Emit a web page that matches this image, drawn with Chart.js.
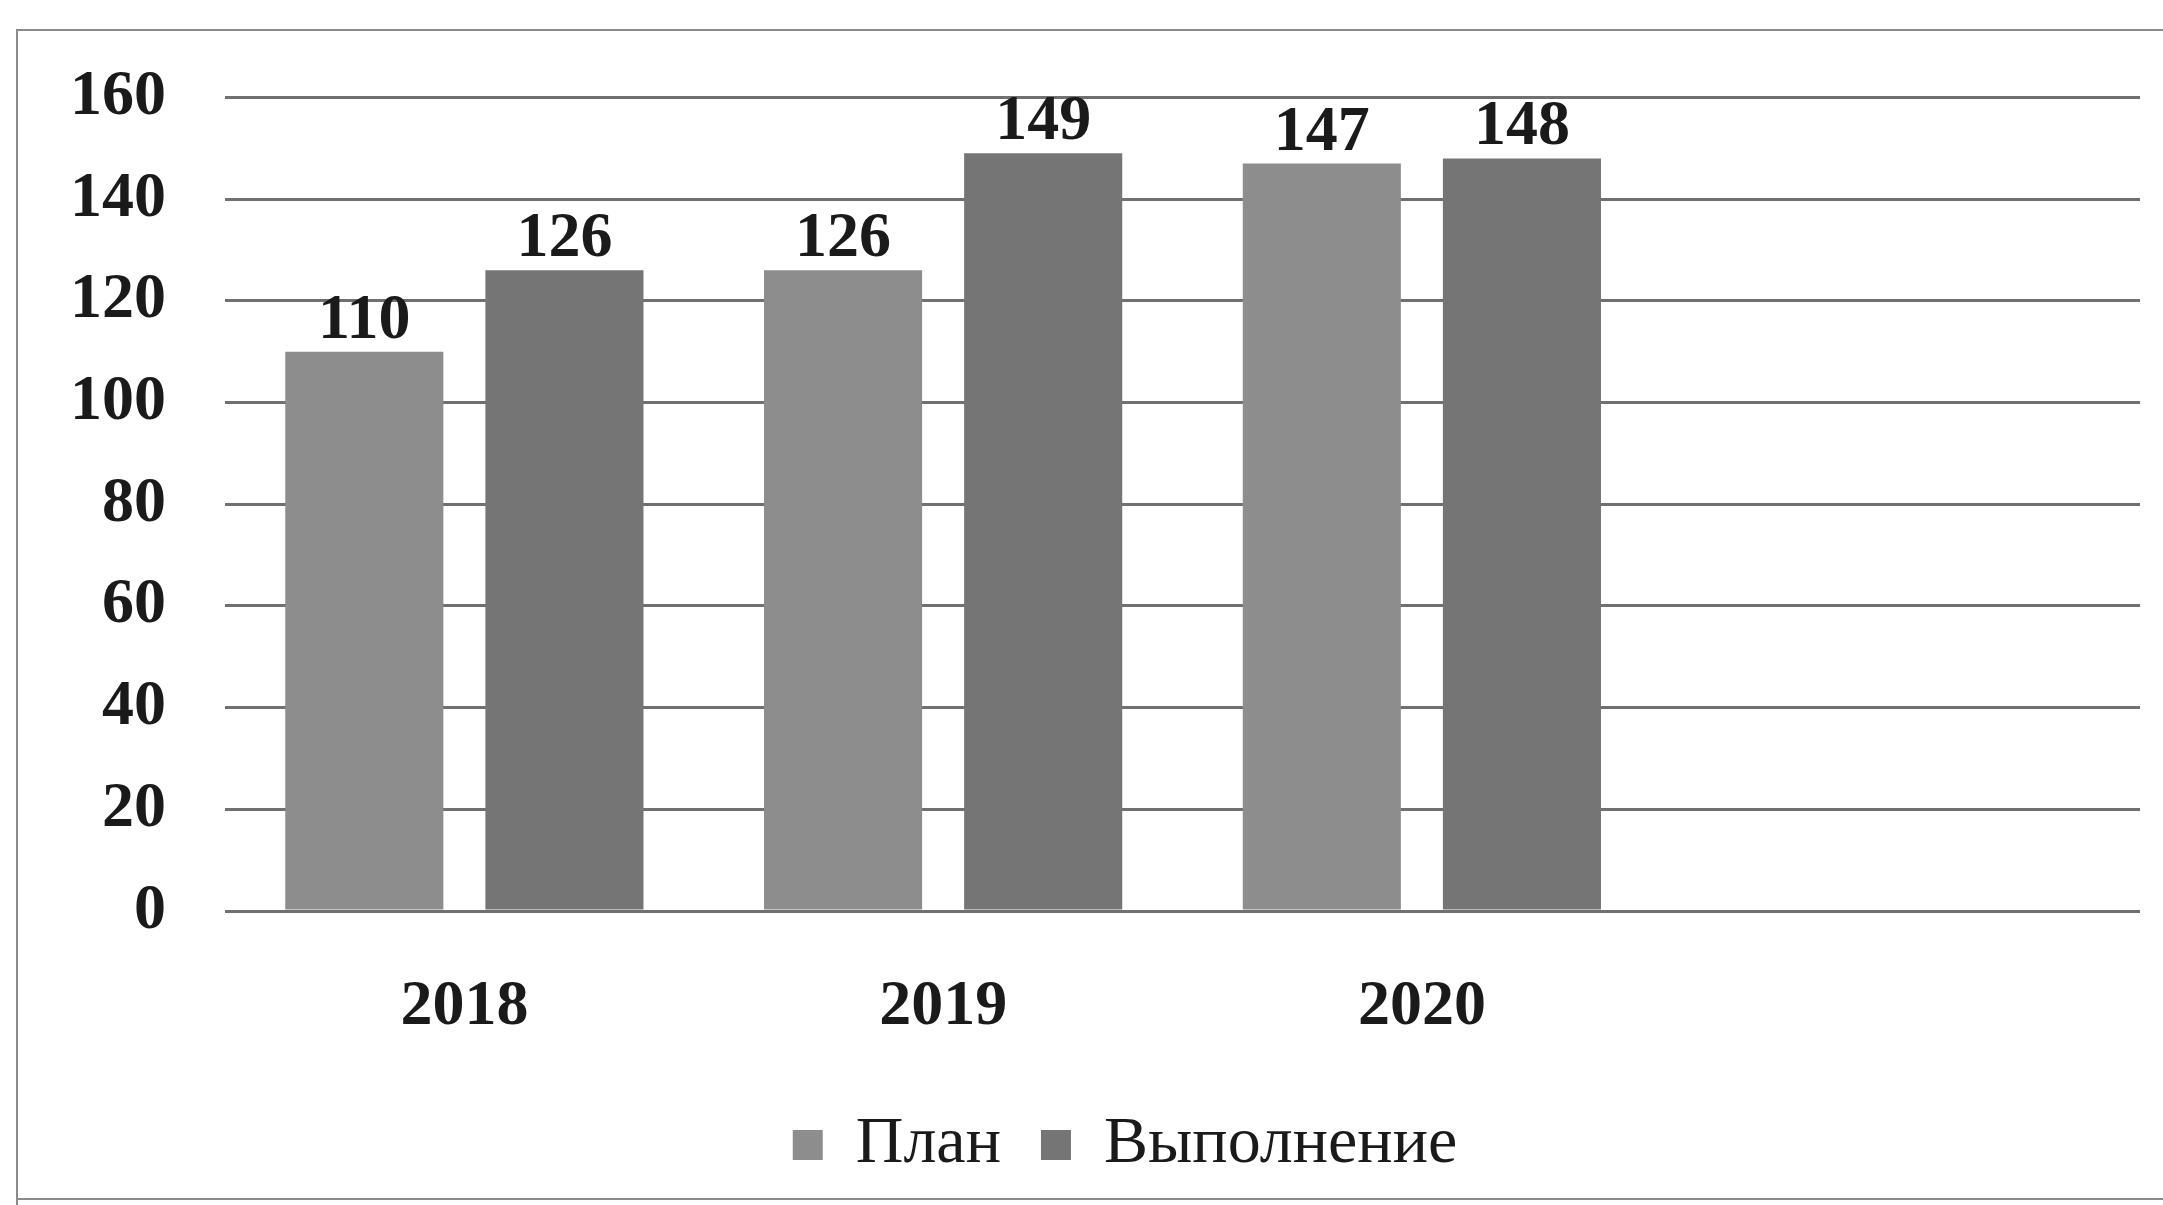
<!DOCTYPE html>
<html>
<head>
<meta charset="utf-8">
<script src="https://cdn.jsdelivr.net/npm/chart.js@4"></script>
<style>
  html, body { margin: 0; padding: 0; background: #fff; }
  #chart { display: block; }
</style>
</head>
<body>
<canvas id="chart" width="2163" height="1205"></canvas>
<script>
// Years on the x axis (the 4th slot is empty in the original)
const years = ['2018', '2019', '2020', ''];
const planValues = [110, 126, 147, null];
const doneValues = [126, 149, 148, null];
const yTicks = [0, 20, 40, 60, 80, 100, 120, 140, 160];

const serif = '"Liberation Serif", "Times New Roman", serif';

// frame around the scanned chart
const framePlugin = {
    id: 'frame',
    beforeDraw(chart) {
        const ctx = chart.ctx;
        ctx.save();
        ctx.strokeStyle = '#8a8a8a';
        ctx.lineWidth = 2;
        ctx.beginPath();
        ctx.moveTo(2163, 30);
        ctx.lineTo(17, 30);
        ctx.lineTo(17, 1205);
        ctx.moveTo(17, 1199);
        ctx.lineTo(2163, 1199);
        ctx.stroke();
        ctx.restore();
    },
    // legend sits a bit right of centre in the original
    afterLayout(chart) {
        chart.legend.left += 25;
        chart.legend.right += 25;
    }
};

// value labels above bars
const valueLabels = {
    id: 'valueLabels',
    afterDatasetsDraw(chart) {
        const ctx = chart.ctx;
        ctx.save();
        ctx.font = 'bold 64px ' + serif;
        ctx.fillStyle = '#1a1a1a';
        ctx.textAlign = 'center';
        ctx.textBaseline = 'alphabetic';
        chart.data.datasets.forEach((ds, i) => {
            chart.getDatasetMeta(i).data.forEach((bar, j) => {
                if (ds.data[j] == null) return;
                ctx.fillText(ds.data[j], bar.x, bar.y - 14);
            });
        });
        ctx.restore();
    }
};

new Chart(document.getElementById('chart').getContext('2d'), {
    type: 'bar',
    data: {
        labels: years,
        datasets: [
            {
                label: 'План',
                data: planValues,
                backgroundColor: '#8d8d8d',
                categoryPercentage: 0.836,
                barPercentage: 0.79
            },
            {
                label: 'Выполнение',
                data: doneValues,
                backgroundColor: '#757575',
                categoryPercentage: 0.836,
                barPercentage: 0.79
            }
        ]
    },
    options: {
        responsive: false,
        animation: false,
        layout: {
            padding: { top: 93, left: 60, right: 23, bottom: 17 }
        },
        scales: {
            x: {
                grid: { display: false, drawTicks: false },
                border: { display: false },
                ticks: {
                    color: '#1a1a1a',
                    font: { family: serif, size: 64, weight: 'bold' },
                    padding: 58
                },
                afterFit(scale) { scale.height = 161; }
            },
            y: {
                min: 0,
                max: 160,
                afterBuildTicks(scale) {
                    scale.ticks = yTicks.map(v => ({ value: v }));
                },
                grid: { color: '#707070', lineWidth: 3, drawTicks: false },
                border: { display: false },
                ticks: {
                    color: '#1a1a1a',
                    font: { family: serif, size: 64, weight: 'bold' },
                    padding: 59
                },
                afterFit(scale) { scale.width = 165; }
            }
        },
        plugins: {
            legend: {
                position: 'bottom',
                labels: {
                    color: '#1a1a1a',
                    font: { family: serif, size: 66 },
                    boxWidth: 30,
                    boxHeight: 30,
                    padding: 40
                }
            },
            tooltip: { enabled: false }
        }
    },
    plugins: [framePlugin, valueLabels]
});
</script>
</body>
</html>
